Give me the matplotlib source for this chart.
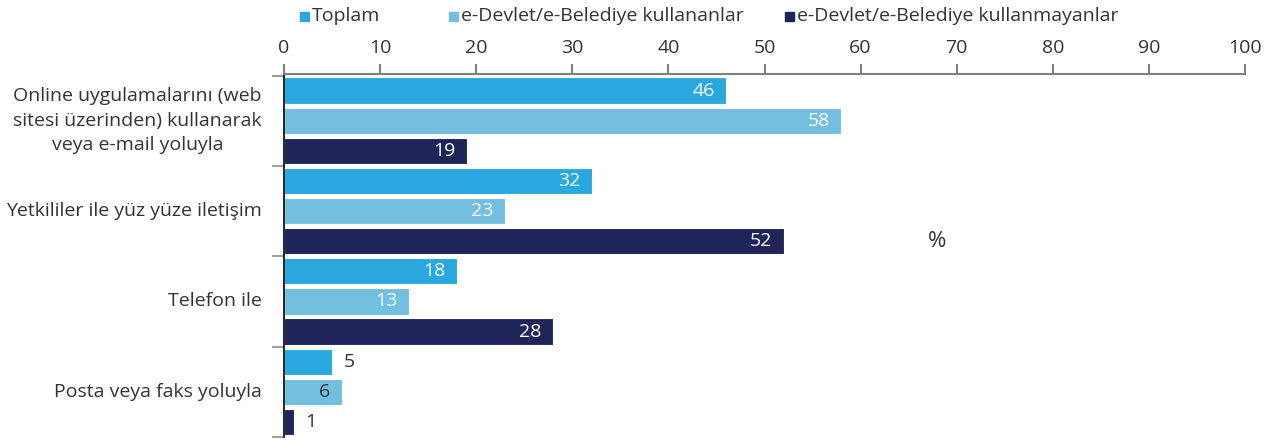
import numpy as np
import matplotlib.pyplot as plt
from matplotlib.patches import Rectangle

plt.rcParams['font.family'] = ['Open Sans', 'DejaVu Sans']

# survey answers, percent
categories = ["Online uygulamalarını (web\nsitesi üzerinden) kullanarak\nveya e-mail yoluyla",
              "Yetkililer ile yüz yüze iletişim",
              "Telefon ile",
              "Posta veya faks yoluyla"]
series = ["Toplam", "e-Devlet/e-Belediye kullananlar", "e-Devlet/e-Belediye kullanmayanlar"]
toplam = [46, 32, 18, 5]
kullanan = [58, 23, 13, 6]
kullanmayan = [19, 52, 28, 1]
colors = ["#29a8e0", "#72bfdf", "#1f2559"]
text_col = "#333333"
fs = 14

fig = plt.figure(figsize=(12.76, 4.41), dpi=100)
ax = fig.add_axes([284/1276, 4/441, 961/1276, 363/441])

data = [toplam, kullanan, kullanmayan]
for j, vals in enumerate(data):
    for i, v in enumerate(vals):
        y = i * 3 + j
        ax.barh(y, v, height=0.87, color=colors[j], edgecolor="white", linewidth=0.8)
        if v >= 6:
            tc = "white" if v >= 10 else text_col
            ax.text(v - 1.2, y, str(v), ha="right", va="center", color=tc, fontsize=fs)
        else:
            ax.text(v + 1.2, y, str(v), ha="left", va="center", color=text_col, fontsize=fs)

ax.set_xlim(0, 100)
ax.set_ylim(11.5, -0.55)
ax.xaxis.tick_top()
ax.set_xticks(np.arange(0, 101, 10))
ax.tick_params(axis="x", colors="#7f7f7f", labelcolor=text_col, labelsize=fs, length=7, width=1.5, pad=5)
ax.set_yticks([-0.5, 2.5, 5.5, 8.5, 11.5])
ax.set_yticklabels([])
ax.tick_params(axis="y", colors="#a0a0a0", length=9, width=1.5)
for s in ["right", "bottom"]:
    ax.spines[s].set_visible(False)
ax.spines["top"].set_color("#7f7f7f")
ax.spines["top"].set_linewidth(1.5)
ax.spines["left"].set_color("black")
ax.spines["left"].set_linewidth(1.2)

# category labels, right aligned next to the axis
for i, c in enumerate(categories):
    ax.text(-2.3, i * 3 + 1, c, ha="right", va="center", multialignment="center",
            color=text_col, fontsize=fs, linespacing=1.45)

ax.text(68, 5, "%", ha="center", va="center", color=text_col, fontsize=16)

# legend row
leg_x = [300, 449, 785]
for lx, name, col in zip(leg_x, series, colors):
    fig.add_artist(Rectangle((lx / 1276, 1 - 21 / 441), 9 / 1276, 9 / 441,
                             transform=fig.transFigure, color=col))
    fig.text((lx + 12) / 1276, 1 - 16 / 441, name, ha="left", va="center",
             color=text_col, fontsize=fs)

fig.savefig("out.png", dpi=100)
